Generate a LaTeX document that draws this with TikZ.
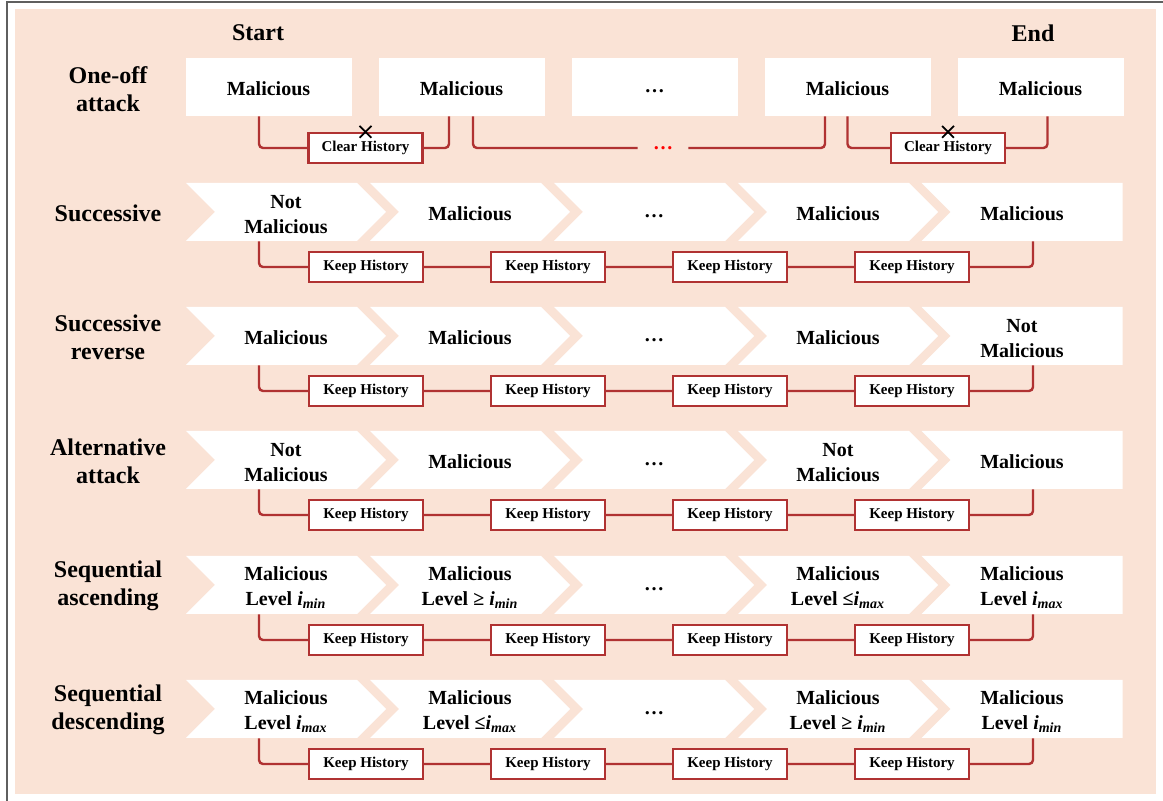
\documentclass[tikz,border=0pt]{standalone}
\usepackage{fontspec}
\setmainfont{Liberation Serif}
\usetikzlibrary{shapes.misc, positioning}

\definecolor{peach}{RGB}{250,227,214}
\definecolor{histred}{RGB}{176,50,50}
\definecolor{framegray}{RGB}{95,95,95}

\tikzstyle{rowname} = [font=\bfseries\fontsize{12}{14}\selectfont, align=center]
\tikzstyle{stage} = [rectangle, fill=white, minimum width=83pt, minimum height=29pt, inner sep=0pt, text height=9pt, font=\bfseries\fontsize{10}{12.5}\selectfont, node distance=96.5pt]
\tikzstyle{chev} = [rectangle, minimum width=100pt, minimum height=29pt, inner sep=0pt, align=center, text height=8.5pt, font=\bfseries\fontsize{10}{12.5}\selectfont,
  path picture={\fill[white] (path picture bounding box.north west) -- ([xshift=-14.5pt]path picture bounding box.north east) -- (path picture bounding box.east) -- ([xshift=-14.5pt]path picture bounding box.south east) -- (path picture bounding box.south west) -- ([xshift=14.5pt]path picture bounding box.west) -- cycle;}]
\tikzstyle{chevend} = [chev, minimum width=100.5pt,
  path picture={\fill[white] (path picture bounding box.north west) -- (path picture bounding box.north east) -- (path picture bounding box.south east) -- (path picture bounding box.south west) -- ([xshift=14.5pt]path picture bounding box.west) -- cycle;}]
\tikzstyle{twolines} = [text height=22pt]
\tikzstyle{histbox} = [rectangle, draw=histred, line width=1.2pt, fill=white, minimum width=57pt, minimum height=15pt, inner sep=0pt, font=\bfseries\fontsize{7.5}{9}\selectfont, node distance=91pt]
\tikzstyle{hist} = [draw=histred, line width=1.2pt, rounded corners=2pt]
\newcommand{\imin}{\textit{i}\textsubscript{\textit{min}}}
\newcommand{\imax}{\textit{i}\textsubscript{\textit{max}}}
\newcommand{\gapdots}{\raisebox{0pt}[0pt][3.4pt]{…}}

\begin{document}
\begin{tikzpicture}[x=0.5pt, y=-0.5pt, node distance=92pt]
\useasboundingbox (0,0) rectangle (1163,801);
\fill [peach] (15,9) rectangle (1156,794);
\draw [framegray, line width=1.2pt] (7,801) -- (7,2) -- (1163,2);

\node (start) [rowname] at (258,33) {Start};
\node (end) [rowname] at (1033,33) {End};

% one-off attack
\node (n1) [rowname] at (108,89) {One-off\\attack};
\node (r11) [stage] at (268.5,87) {Malicious};
\node (r12) [stage, right of=r11] {Malicious};
\node (r13) [stage, right of=r12] {\gapdots};
\node (r14) [stage, right of=r13] {Malicious};
\node (r15) [stage, right of=r14] {Malicious};
\node (x1) [histbox] at (365.5,148) {Clear History};
\node (x2) [histbox] at (948,148) {Clear History};
\node (rdots) [text=red, minimum width=25pt, inner sep=0pt, font=\bfseries\fontsize{10}{12}\selectfont] at (663,148) {…};
\draw [hist] ([xshift=-4.75pt]r11.south) |- (x1) -| ([xshift=-6.25pt]r12.south);
\draw [hist] ([xshift=5.75pt]r12.south) |- (rdots) -| ([xshift=-11.25pt]r14.south);
\draw [hist] (r14.south) |- (x2) -| ([xshift=3.5pt]r15.south);
\node (xm1) [cross out, draw=black, line width=0.9pt, minimum size=5pt, inner sep=0pt] at (x1.north) {};
\node (xm2) [cross out, draw=black, line width=0.9pt, minimum size=5pt, inner sep=0pt] at (x2.north) {};

% successive
\node (n2) [rowname] at (108,213) {Successive};
\node (c21) [chev, twolines] at (286,212) {Not\\Malicious};
\node (c22) [chev, right of=c21] {Malicious};
\node (c23) [chev, right of=c22] {\gapdots};
\node (c24) [chev, right of=c23] {Malicious};
\node (c25) [chevend, right of=c24] {Malicious};
\node (k21) [histbox] at (366,267) {Keep History};
\node (k22) [histbox, right of=k21] {Keep History};
\node (k23) [histbox, right of=k22] {Keep History};
\node (k24) [histbox, right of=k23] {Keep History};
\draw [hist] ([xshift=-13.5pt]c21.south) |- (k21) -- (k22) -- (k23) -- (k24) -| ([xshift=5.5pt]c25.south);

% successive reverse
\node (n3) [rowname] at (108,337) {Successive\\reverse};
\node (c31) [chev] at (286,336) {Malicious};
\node (c32) [chev, right of=c31] {Malicious};
\node (c33) [chev, right of=c32] {\gapdots};
\node (c34) [chev, right of=c33] {Malicious};
\node (c35) [chevend, twolines, right of=c34] {Not\\Malicious};
\node (k31) [histbox] at (366,391) {Keep History};
\node (k32) [histbox, right of=k31] {Keep History};
\node (k33) [histbox, right of=k32] {Keep History};
\node (k34) [histbox, right of=k33] {Keep History};
\draw [hist] ([xshift=-13.5pt]c31.south) |- (k31) -- (k32) -- (k33) -- (k34) -| ([xshift=5.5pt]c35.south);

% alternative attack
\node (n4) [rowname] at (108,461) {Alternative\\attack};
\node (c41) [chev, twolines] at (286,460) {Not\\Malicious};
\node (c42) [chev, right of=c41] {Malicious};
\node (c43) [chev, right of=c42] {\gapdots};
\node (c44) [chev, twolines, right of=c43] {Not\\Malicious};
\node (c45) [chevend, right of=c44] {Malicious};
\node (k41) [histbox] at (366,515) {Keep History};
\node (k42) [histbox, right of=k41] {Keep History};
\node (k43) [histbox, right of=k42] {Keep History};
\node (k44) [histbox, right of=k43] {Keep History};
\draw [hist] ([xshift=-13.5pt]c41.south) |- (k41) -- (k42) -- (k43) -- (k44) -| ([xshift=5.5pt]c45.south);

% sequential ascending
\node (n5) [rowname] at (108,586) {Sequential\\ascending};
\node (c51) [chev, twolines] at (286,585) {Malicious\\Level \imin};
\node (c52) [chev, twolines, right of=c51] {Malicious\\Level ≥ \imin};
\node (c53) [chev, right of=c52] {\gapdots};
\node (c54) [chev, twolines, right of=c53] {Malicious\\Level ≤\imax};
\node (c55) [chevend, twolines, right of=c54] {Malicious\\Level \imax};
\node (k51) [histbox] at (366,640) {Keep History};
\node (k52) [histbox, right of=k51] {Keep History};
\node (k53) [histbox, right of=k52] {Keep History};
\node (k54) [histbox, right of=k53] {Keep History};
\draw [hist] ([xshift=-13.5pt]c51.south) |- (k51) -- (k52) -- (k53) -- (k54) -| ([xshift=5.5pt]c55.south);

% sequential descending
\node (n6) [rowname] at (108,710) {Sequential\\descending};
\node (c61) [chev, twolines] at (286,709) {Malicious\\Level \imax};
\node (c62) [chev, twolines, right of=c61] {Malicious\\Level ≤\imax};
\node (c63) [chev, right of=c62] {\gapdots};
\node (c64) [chev, twolines, right of=c63] {Malicious\\Level ≥ \imin};
\node (c65) [chevend, twolines, right of=c64] {Malicious\\Level \imin};
\node (k61) [histbox] at (366,764) {Keep History};
\node (k62) [histbox, right of=k61] {Keep History};
\node (k63) [histbox, right of=k62] {Keep History};
\node (k64) [histbox, right of=k63] {Keep History};
\draw [hist] ([xshift=-13.5pt]c61.south) |- (k61) -- (k62) -- (k63) -- (k64) -| ([xshift=5.5pt]c65.south);

\end{tikzpicture}
\end{document}
